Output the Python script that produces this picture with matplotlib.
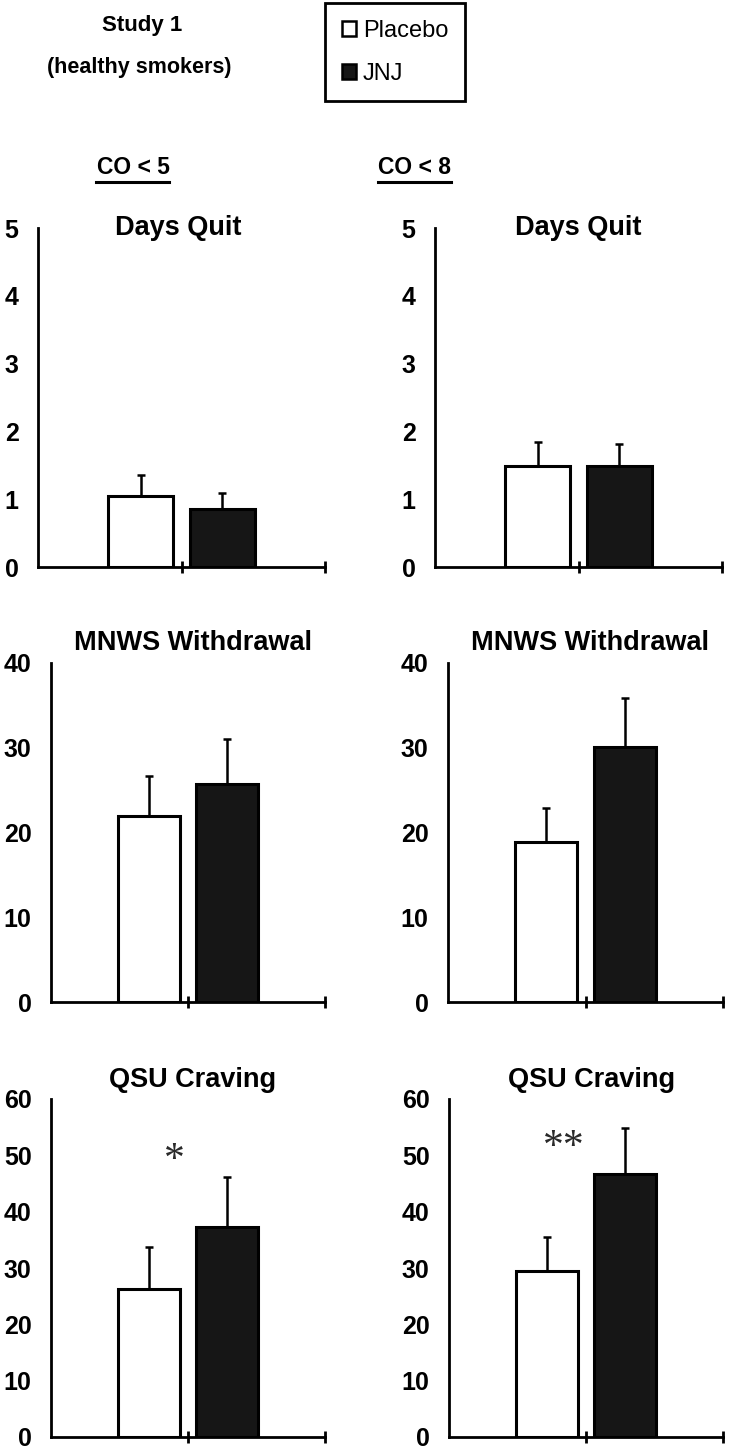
import matplotlib
matplotlib.use("Agg")
import matplotlib.pyplot as plt
from matplotlib.patches import Patch
from matplotlib.lines import Line2D

plt.rcParams["font.family"] = ["Liberation Sans", "DejaVu Sans"]

# values: group means and upper SEM bars
groups = ["Placebo", "JNJ"]
bar_colors = ["white", "#161616"]

days_quit_co5 = [1.05, 0.86]
days_quit_co5_err = [0.31, 0.23]
days_quit_co8 = [1.49, 1.49]
days_quit_co8_err = [0.35, 0.32]

mnws_co5 = [21.9, 25.7]
mnws_co5_err = [4.8, 5.3]
mnws_co8 = [18.9, 30.1]
mnws_co8_err = [4.0, 5.8]

qsu_co5 = [26.3, 37.3]
qsu_co5_err = [7.4, 8.9]
qsu_co8 = [29.5, 46.7]
qsu_co8_err = [6.0, 8.2]

ymax = {"Days Quit": 5, "MNWS Withdrawal": 40, "QSU Craving": 60}
ystep = {"Days Quit": 1, "MNWS Withdrawal": 10, "QSU Craving": 10}

# significance marks: (text, x, y) in data coords
sig_co5 = ("*", 0.90, 49.1)
sig_co8 = ("**", 0.84, 51.3)

W, H = 733, 1448
fig = plt.figure(figsize=(W / 100, H / 100), dpi=100)


def add_ax(l, t, r, b):
    # pixel box -> figure fraction
    return fig.add_axes([l / W, 1 - b / H, (r - l) / W, (b - t) / H])


def panel(box, title, vals, errs, title_y, title_x, sig=None):
    ax = add_ax(*box)
    xs = [1 - 0.285, 1 + 0.285]
    ax.bar(xs, vals, width=0.45, color=bar_colors, edgecolor="black",
           linewidth=2.2, zorder=3)
    ax.errorbar(xs, vals, yerr=[[0, 0], errs], fmt="none", ecolor="black",
                elinewidth=1.8, capsize=3, capthick=1.8, zorder=2)
    top = ymax[title]
    ax.set_xlim(0, 2)
    ax.set_ylim(0, top)
    ax.set_yticks(range(0, top + 1, ystep[title]))
    ax.set_xticks([1, 2])
    ax.set_xticklabels([])
    for s in ("top", "right"):
        ax.spines[s].set_visible(False)
    for s in ("left", "bottom"):
        ax.spines[s].set_linewidth(2.0)
    ax.tick_params(axis="y", length=0, pad=14, labelsize=18)
    for lab in ax.get_yticklabels():
        lab.set_fontweight("bold")
    ax.tick_params(axis="x", direction="inout", length=8, width=2.0)
    ax.text(title_x, title_y, title, transform=ax.transAxes, ha="center",
            va="center", fontsize=19.5, fontweight="bold")
    if sig is not None:
        # serif asterisk sits high in its box, so drop it a little
        ax.text(sig[1], sig[2], sig[0], ha="center", va="center",
                fontsize=30, color="#2a2a2a", family="Liberation Serif")
    return ax


panel((38, 228, 325, 567), "Days Quit", days_quit_co5, days_quit_co5_err, 1.0, 0.49)
panel((435, 228, 722, 567), "Days Quit", days_quit_co8, days_quit_co8_err, 1.0, 0.50)
panel((51, 663, 325, 1002), "MNWS Withdrawal", mnws_co5, mnws_co5_err, 1.058, 0.52)
panel((448, 663, 723, 1002), "MNWS Withdrawal", mnws_co8, mnws_co8_err, 1.058, 0.516)
panel((51, 1099, 325, 1437), "QSU Craving", qsu_co5, qsu_co5_err, 1.056, 0.518, sig_co5)
panel((449, 1099, 723, 1437), "QSU Craving", qsu_co8, qsu_co8_err, 1.056, 0.52, sig_co8)

# header block
fig.text(142 / W, 1 - 25 / H, "Study 1", ha="center", va="center",
         fontsize=16, fontweight="bold")
fig.text(139 / W, 1 - 67 / H, "(healthy smokers)", ha="center", va="center",
         fontsize=15.5, fontweight="bold")
for cx, x0, x1, lab in [(133, 96, 169, "CO < 5"), (415, 378, 451, "CO < 8")]:
    fig.text(cx / W, 1 - 167 / H, lab, ha="center", va="center",
             fontsize=16.5, fontweight="bold")
    fig.add_artist(Line2D([x0 / W, x1 / W], [1 - 182 / H, 1 - 182 / H],
                          color="black", linewidth=2.2))

handles = [Patch(facecolor=c, edgecolor="black", linewidth=1.8, label=g)
           for g, c in zip(groups, bar_colors)]
leg = fig.legend(handles=handles, loc="upper left",
                 bbox_to_anchor=(325 / W, 1 - 3 / H), borderaxespad=0,
                 fontsize=17, fancybox=False, edgecolor="black",
                 handlelength=0.6, handleheight=0.6, handletextpad=0.3,
                 labelspacing=0.9, borderpad=0.7, framealpha=1)
leg.get_frame().set_linewidth(2.0)

fig.savefig("out.png", dpi=100)
